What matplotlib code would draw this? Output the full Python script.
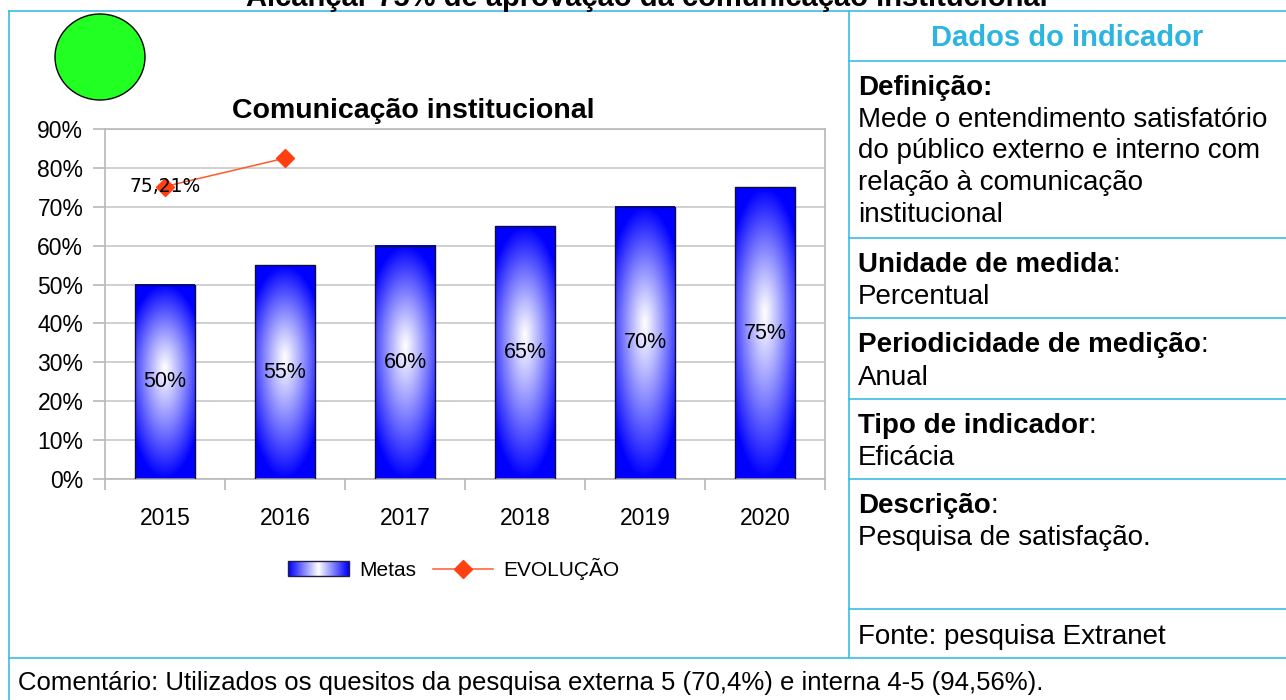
import numpy as np
import matplotlib
matplotlib.use('Agg')
from matplotlib import pyplot as plt
from matplotlib.patches import Ellipse, Rectangle
from matplotlib.lines import Line2D
from matplotlib.legend_handler import HandlerBase
from matplotlib.image import BboxImage
from matplotlib.transforms import Bbox, TransformedBbox

plt.rcParams['font.family'] = ['Liberation Sans', 'DejaVu Sans']

# data
years = ['2015', '2016', '2017', '2018', '2019', '2020']
metas = [50, 55, 60, 65, 70, 75]
evolucao = [75.21, 82.5]
evolucao_label = ['75,21%', '']
yticks = [0, 10, 20, 30, 40, 50, 60, 70, 80, 90]

W, H = 1286, 700
cyan = '#3DBCE0'


def fx(px):
    return px / W


def fy(py):
    return 1 - py / H


def radial_gradient(nx, ny, cy=0.57):
    # white centre fading to pure blue, like the office chart fill
    x = np.linspace(-1, 1, nx)
    y = np.linspace(0, 1, ny)
    X, Y = np.meshgrid(x, y)
    dy = np.where(Y > cy, (Y - cy) / (1 - cy), (cy - Y) / cy)
    d = np.sqrt((X / 1.35) ** 2 + dy ** 2)
    t = np.clip(d, 0, 1) ** 1.1
    img = np.ones((ny, nx, 3))
    img[..., 0] = 1 - t
    img[..., 1] = 1 - t
    return img


class GradientHandler(HandlerBase):
    def create_artists(self, legend, orig_handle, xdescent, ydescent,
                       width, height, fontsize, trans):
        bb = Bbox.from_bounds(-xdescent, -ydescent, width, height)
        img = BboxImage(TransformedBbox(bb, trans), interpolation='bilinear')
        t = np.abs(np.linspace(-1, 1, 80))
        g = np.ones((20, 80, 3))
        g[..., 0] = 1 - t
        g[..., 1] = 1 - t
        img.set_data(g)
        rect = Rectangle((-xdescent, -ydescent), width, height, fill=False,
                         edgecolor='#202040', linewidth=1, transform=trans)
        return [img, rect]


fig = plt.figure(figsize=(W / 100, H / 100), dpi=100)

# frame lines of the panel
frame = dict(color=cyan, linewidth=1.2)
fig.add_artist(Line2D([fx(9), 1], [fy(11), fy(11)], **frame))
fig.add_artist(Line2D([fx(9), fx(9)], [fy(11), 0], **frame))
fig.add_artist(Line2D([fx(849), fx(849)], [fy(11), fy(658)], **frame))
fig.add_artist(Line2D([fx(9), 1], [fy(658), fy(658)], **frame))
for yy in [61, 238, 318, 399, 479, 609]:
    fig.add_artist(Line2D([fx(849), 1], [fy(yy), fy(yy)], **frame))

# title cut off at the top, as in the source
fig.text(fx(647), fy(6), 'Alcançar 75% de aprovação da comunicação institucional',
         ha='center', va='baseline', fontsize=21, fontweight='bold')

# status light
fig.add_artist(Ellipse((fx(100), fy(57)), fx(90), 86 / H, transform=fig.transFigure,
                       facecolor='#22FF22', edgecolor='black', linewidth=1))

fig.text(fx(413), fy(118), 'Comunicação institucional', ha='center', va='baseline',
         fontsize=20.5, fontweight='bold')

ax = fig.add_axes([fx(105), fy(479), 720 / W, 350 / H])
x = np.arange(len(years))
bars = ax.bar(x, metas, width=0.5, facecolor='none', edgecolor='#101030',
              linewidth=1, zorder=3)
for b in bars:
    ax.imshow(radial_gradient(60, 200), origin='lower', aspect='auto',
              interpolation='bilinear', zorder=2,
              extent=(b.get_x(), b.get_x() + b.get_width(), 0, b.get_height()))
ax.bar_label(bars, labels=[f'{v}%' for v in metas], label_type='center',
             fontsize=15.5, zorder=5)

line, = ax.plot(x[:len(evolucao)], evolucao, color='#FF5A30', linewidth=1.1,
                marker='D', markersize=9.5, markerfacecolor='#FF4010',
                markeredgecolor='#FF4010', zorder=4)
for xi, v, lab in zip(x, evolucao, evolucao_label):
    if lab:
        ax.annotate(lab, (xi, v), ha='center', va='center', fontsize=13.5,
                    family='DejaVu Sans', zorder=6)

ax.set_xlim(-0.5, len(years) - 0.5)
ax.set_ylim(0, 90)
ax.set_yticks(yticks)
ax.set_yticklabels([f'{v}%' for v in yticks])
ax.set_xticks(np.arange(-0.5, len(years), 1))
ax.set_xticklabels([])
ax.set_xticks(x, minor=True)
ax.set_xticklabels(years, minor=True)
ax.tick_params(axis='y', length=8.6, width=1.2, color='#B8B8B8', pad=7, labelsize=16.5)
ax.tick_params(axis='x', which='major', length=8, width=1.2, color='#B8B8B8')
ax.tick_params(axis='x', which='minor', length=0, pad=20, labelsize=16.5)
ax.yaxis.grid(True, color='#C8C8C8', linewidth=1.2)
ax.set_axisbelow(True)
for s in ax.spines.values():
    s.set_color('#B8B8B8')
    s.set_linewidth(1.2)

fig.legend([bars, line], ['Metas', 'EVOLUÇÃO'], loc='center',
           bbox_to_anchor=(fx(454), fy(569)), frameon=False, ncol=2,
           fontsize=15, handlelength=2.9, handleheight=0.72, handletextpad=0.5,
           columnspacing=0.8, handler_map={bars: GradientHandler()})

# indicator data panel
renderer = fig.canvas.get_renderer()
fig.text(fx(1067), fy(46), 'Dados do indicador', ha='center', va='baseline',
         fontsize=21, fontweight='bold', color='#2BB5E0')

tx = fx(858)
fs = 20


def head(y, text, tail=':'):
    t = fig.text(tx, fy(y), text, va='baseline', fontsize=fs, fontweight='bold')
    bb = t.get_window_extent(renderer)
    if tail:
        fig.text(bb.x1 / W, fy(y), tail, va='baseline', fontsize=fs)


def body(y, text):
    fig.text(tx, fy(y), text, va='baseline', fontsize=fs)


head(95, 'Definição:', tail='')
body(127, 'Mede o entendimento satisfatório')
body(158, 'do público externo e interno com')
body(190, 'relação à comunicação')
body(222, 'institucional')
head(272, 'Unidade de medida')
body(304, 'Percentual')
head(352, 'Periodicidade de medição')
body(385, 'Anual')
head(433, 'Tipo de indicador')
body(465, 'Eficácia')
head(513, 'Descrição')
body(545, 'Pesquisa de satisfação.')
body(644, 'Fonte: pesquisa Extranet')

fig.text(fx(18), fy(690), 'Comentário: Utilizados os quesitos da pesquisa externa 5 (70,4%) '
         'e interna 4-5 (94,56%).', va='baseline', fontsize=18.5)

fig.savefig('out.png', dpi=100)
